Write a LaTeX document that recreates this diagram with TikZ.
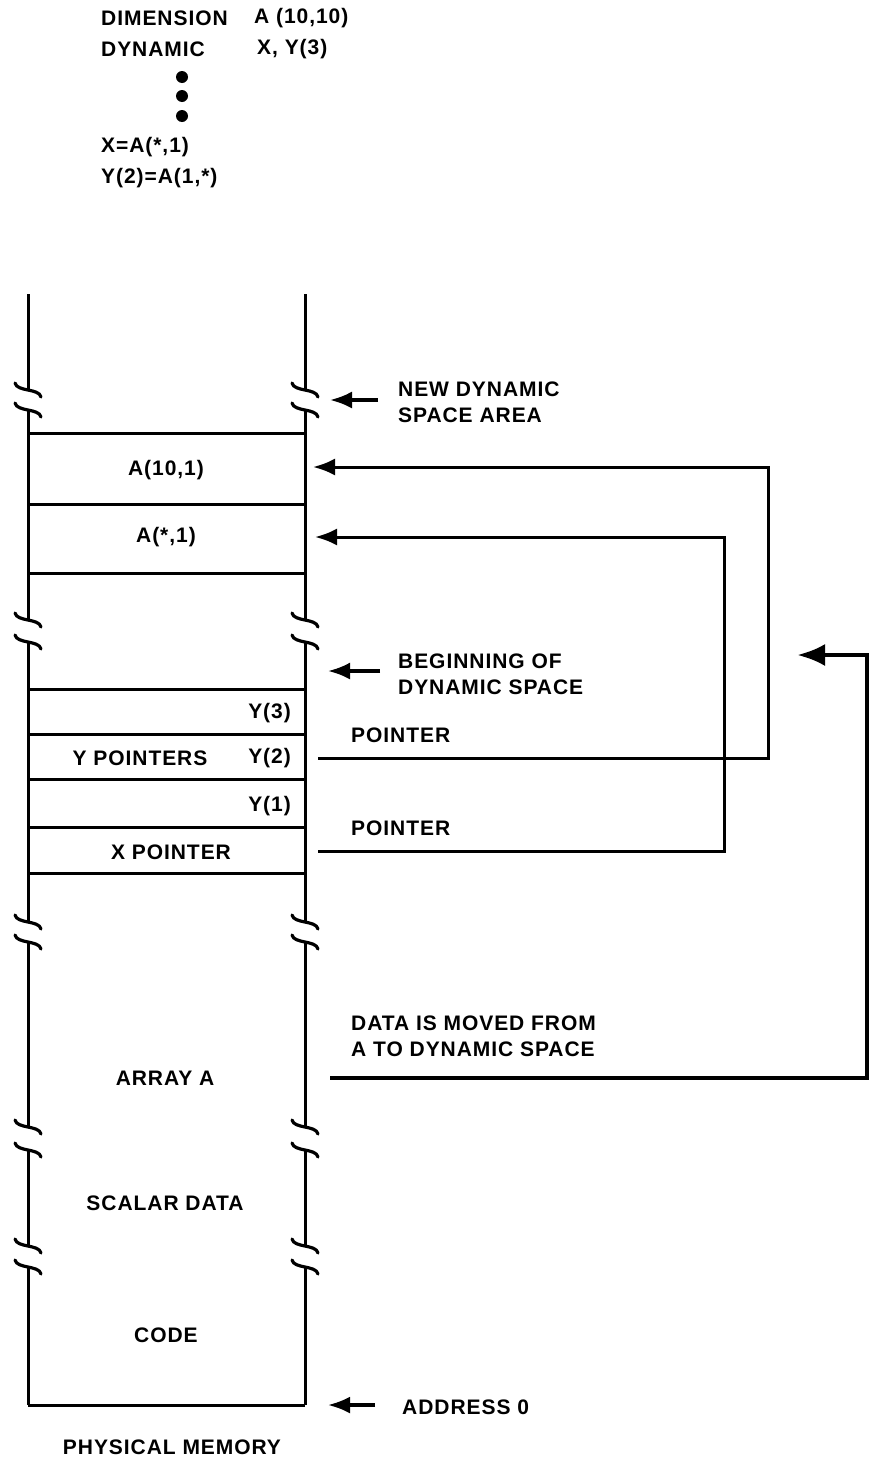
\documentclass[tikz,border=0pt]{standalone}
\usepackage{fontspec}
\setmainfont[LetterSpace=4.5]{Liberation Sans}
\usetikzlibrary{arrows.meta, positioning, calc}

\tikzset{
  brkmark/.pic={\draw[line width=3.2pt, line cap=round]
    (-13,-7) .. controls (-11,2) and (11,-2) .. (13,7);}
}

\begin{document}
\begin{tikzpicture}[
    x=1pt, y=-1pt,
    txt/.style={font=\fontsize{21}{26}\selectfont\bfseries, inner sep=0pt, align=left},
    wall/.style={line width=3pt},
    arr/.style={-{Latex[length=22pt,width=17pt]}, line width=3.2pt},
    bigarr/.style={-{Latex[length=28pt,width=22pt]}, line width=4.6pt}
  ]
  \useasboundingbox (0,0) rectangle (873,1467);

  % program fragment
  \node[txt, anchor=west] (dim)    at (101,18)  {DIMENSION};
  \node[txt, anchor=west] (dimarg) at (254,18)  {A (10,10)};
  \node[txt, anchor=west] (dyn)    at (101,49)  {DYNAMIC};
  \node[txt, anchor=west] (dynarg) at (257,49)  {X, Y(3)};
  \foreach \y/\n in {77/d1, 96/d2, 116/d3}
    \fill (182,\y) circle (6pt) coordinate (\n);
  \node[txt, anchor=west] (xeq)    at (101,147) {X=A(*,1)};
  \node[txt, anchor=west] (yeq)    at (101,178) {Y(2)=A(1,*)};

  % memory walls with breaks
  \foreach \a/\b in {294/390, 410/620, 642/922, 942/1127, 1150/1246, 1267/1405} {
    \draw[wall] (28,\a) -- (28,\b);
    \draw[wall] (305,\a) -- (305,\b);
  }
  \foreach \y in {390, 410, 620, 642, 922, 942, 1127, 1150, 1246, 1267} {
    \pic at (28,\y) {brkmark};
    \pic at (305,\y) {brkmark};
  }
  \draw[wall] (28,1405) -- (305,1405);
  \foreach \y in {433, 504, 573, 689, 734, 779, 827, 873}
    \draw[wall] (28,\y) -- (305,\y);

  % cell contents
  \node[txt] (a10)    at (166,470)  {A(10,1)};
  \node[txt] (astar)  at (166,537)  {A(*,1)};
  \node[txt, anchor=east] (y3) at (291,713) {Y(3)};
  \node[txt] (ypt)    at (140,758)  {Y POINTERS};
  \node[txt, anchor=east] (y2) at (291,758) {Y(2)};
  \node[txt, anchor=east] (y1) at (291,806) {Y(1)};
  \node[txt] (xpt)    at (171,852)  {X POINTER};
  \node[txt] (arra)   at (165,1078) {ARRAY A};
  \node[txt] (scal)   at (165,1203) {SCALAR DATA};
  \node[txt] (code)   at (166,1335) {CODE};
  \node[txt] (phys)   at (172,1447) {PHYSICAL MEMORY};

  % labels on the right
  \node[txt, anchor=west] (newlbl)  at (398,402)  {NEW DYNAMIC\\SPACE AREA};
  \node[txt, anchor=west] (beglbl)  at (398,674)  {BEGINNING OF\\DYNAMIC SPACE};
  \node[txt, anchor=west] (yptrlbl) at (351,735)  {POINTER};
  \node[txt, anchor=west] (xptrlbl) at (351,828)  {POINTER};
  \node[txt, anchor=west] (movlbl)  at (351,1036) {DATA IS MOVED FROM\\A TO DYNAMIC SPACE};
  \node[txt, anchor=west] (adrlbl)  at (402,1407) {ADDRESS 0};

  % connector ends
  \coordinate (newtail) at (378,400);  \coordinate (newtip) at (330,400);
  \coordinate (begtail) at (380,671);  \coordinate (begtip) at (328,671);
  \coordinate (adrtail) at (375,1405); \coordinate (adrtip) at (328,1405);
  \coordinate (y2src)   at (318,758);  \coordinate (a10dst)   at (313,467);
  \coordinate (xsrc)    at (318,851);  \coordinate (astardst) at (315,537);
  \coordinate (arrsrc)  at (330,1078); \coordinate (dyndst)   at (797,655);

  \draw[arr] (newtail) -- (newtip);
  \draw[arr] (begtail) -- (begtip);
  \draw[arr] (adrtail) -- (adrtip);

  % pointers into dynamic space
  \draw[arr, line width=3pt] (y2src) -- ++(450,0) |- (a10dst);
  \draw[arr, line width=3pt] (xsrc) -- ++(406,0) |- (astardst);
  \draw[bigarr] (arrsrc) -- ++(537,0) |- (dyndst);
\end{tikzpicture}
\end{document}
